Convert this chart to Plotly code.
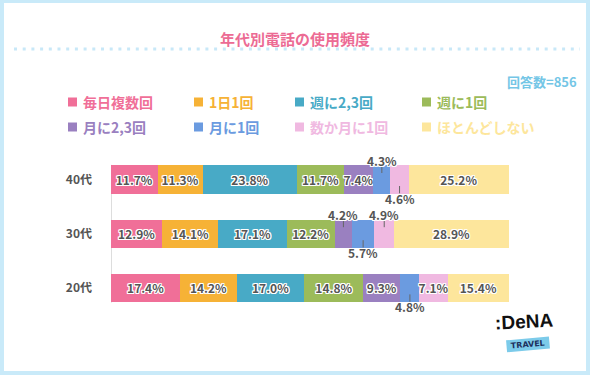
import plotly.graph_objects as go
import numpy as np

# ---------------- data ----------------
ages = ["40代", "30代", "20代"]
series_names = ["毎日複数回", "1日1回", "週に2,3回", "週に1回", "月に2,3回", "月に1回", "数か月に1回", "ほとんどしない"]
values = {
    "毎日複数回":   [11.7, 12.9, 17.4],
    "1日1回":       [11.3, 14.1, 14.2],
    "週に2,3回":    [23.8, 17.1, 17.0],
    "週に1回":      [11.7, 12.2, 14.8],
    "月に2,3回":    [7.4, 4.2, 9.3],
    "月に1回":      [4.3, 5.7, 4.8],
    "数か月に1回":  [4.6, 4.9, 7.1],
    "ほとんどしない": [25.2, 28.9, 15.4],
}
# placement of labels for narrow segments: (series, age) -> "up"/"down"
outside_labels = {
    ("月に1回", "40代"): "up",
    ("数か月に1回", "40代"): "down",
    ("月に2,3回", "30代"): "up",
    ("月に1回", "30代"): "down",
    ("数か月に1回", "30代"): "up",
    ("月に1回", "20代"): "down",
}
title_text = "年代別電話の使用頻度"
n_text = "回答数=856"

colors = ["#f06f98", "#f6b236", "#48aac6", "#9cbb5a", "#9a80c0", "#6b9be0", "#f0b9e1", "#fde69c"]

W, H = 590, 375
L, R, T, B = 111, 509, 150, 315
pw, ph = R - L, B - T
def px(x):
    return (x - L) / pw
def py(y):
    return (B - y) / ph

FONT = "Noto Sans CJK JP, Noto Sans, sans-serif"
SH = "1px 1px 0 #fff, -1px -1px 0 #fff, 1px -1px 0 #fff, -1px 1px 0 #fff, 0 1px 0 #fff, 0 -1px 0 #fff, 1px 0 0 #fff, -1px 0 0 #fff"

fig = go.Figure()
cum = np.zeros(len(ages))
annotations = []
shapes = []
for i, name in enumerate(series_names):
    vals = values[name]
    texts = []
    for j, a in enumerate(ages):
        if (name, a) in outside_labels:
            texts.append("")
            mid = cum[j] + vals[j] / 2
            d = outside_labels[(name, a)]
            sgn = -1 if d == "up" else 1
            annotations.append(dict(
                x=mid, y=j, xref="x", yref="y", text=f"{vals[j]:.1f}%",
                showarrow=False, yshift=-sgn * 19,
                font=dict(family=FONT, size=12, color="#555555", weight="bold", shadow=SH)))
            y0 = j + sgn * 0.255
            y1 = j + sgn * 0.12
            shapes.append(dict(type="line", xref="x", yref="y", x0=mid, x1=mid, y0=y0, y1=y1,
                               line=dict(color="#666666", width=1), layer="above"))
        else:
            texts.append(f"{vals[j]:.1f}%")
    fig.add_trace(go.Bar(
        y=ages, x=vals, name=name, orientation="h",
        marker=dict(color=colors[i], line=dict(width=0)),
        text=texts, textposition="inside", insidetextanchor="middle",
        textangle=0, constraintext="none",
        textfont=dict(family=FONT, size=12, color="#555555", weight="bold", shadow=SH),
        width=0.52, showlegend=False, hoverinfo="skip",
    ))
    cum += np.array(vals)

# legend (manual)
leg_cols = [68, 194, 295, 422]
leg_rows = [102, 127]
for i, name in enumerate(series_names):
    cx = leg_cols[i % 4]
    cy = leg_rows[i // 4]
    shapes.append(dict(type="rect", xref="paper", yref="paper",
                       x0=px(cx), x1=px(cx + 9), y0=py(cy + 4.5), y1=py(cy - 4.5),
                       fillcolor=colors[i], line=dict(width=0)))
    annotations.append(dict(x=px(cx + 13), y=py(cy), xref="paper", yref="paper",
                            text=name, showarrow=False, xanchor="left", yanchor="middle",
                            font=dict(family=FONT, size=14, color=colors[i], weight="bold")))

# frame
shapes.insert(0, dict(type="rect", xref="paper", yref="paper", x0=px(4), x1=px(586), y0=py(371), y1=py(3),
                      fillcolor="white", line=dict(width=0), layer="below"))
# dotted line
shapes.append(dict(type="line", xref="paper", yref="paper", x0=px(14), x1=px(580), y0=py(49), y1=py(49),
                   line=dict(color="#c8e8f8", width=3, dash="3px,5.7px")))
# axis line
shapes.append(dict(type="line", xref="paper", yref="y", x0=px(111.5), x1=px(111.5), y0=-0.27, y1=2.27,
                   line=dict(color="#dddddd", width=1), layer="below"))

annotations.append(dict(x=px(295), y=py(26), xref="paper", yref="paper", text=title_text, showarrow=False,
                        font=dict(family=FONT, size=15, color="#ec6b94", weight="bold")))
annotations.append(dict(x=px(579), y=py(70), xref="paper", yref="paper", text=n_text, showarrow=False,
                        xanchor="right", font=dict(family=FONT, size=13, color="#74c6e6", weight="bold")))
# logo
annotations.append(dict(x=px(550), y=py(353), xref="paper", yref="paper", text=" TRAVEL ", showarrow=False,
                        textangle=-5, bgcolor="#7ccbea", borderpad=1,
                        font=dict(family="DejaVu Sans", size=8, color="#1d2f5c", weight="bold")))
annotations.append(dict(x=px(556), y=py(336), xref="paper", yref="paper", text=":DeNA", showarrow=False,
                        textangle=-3,
                        font=dict(family="Liberation Sans Narrow, Liberation Sans, sans-serif", size=19, color="#111111", weight="bold")))

fig.update_layout(
    width=W, height=H,
    margin=dict(l=L, r=W - R, t=T, b=H - B),
    paper_bgcolor="#c9eaf9", plot_bgcolor="rgba(0,0,0,0)",
    barmode="stack",
    xaxis=dict(range=[0, 100], visible=False),
    yaxis=dict(autorange="reversed", showgrid=False, zeroline=False, showline=False, ticks="",
               ticklabelstandoff=18,
               tickfont=dict(family=FONT, size=12, color="#555555", weight="bold")),
    shapes=shapes, annotations=annotations,
    font=dict(family=FONT),
)
fig.write_html("out.html", config={"displayModeBar": False},
               post_script="document.body.style.margin='0';document.body.style.overflow='hidden';")
